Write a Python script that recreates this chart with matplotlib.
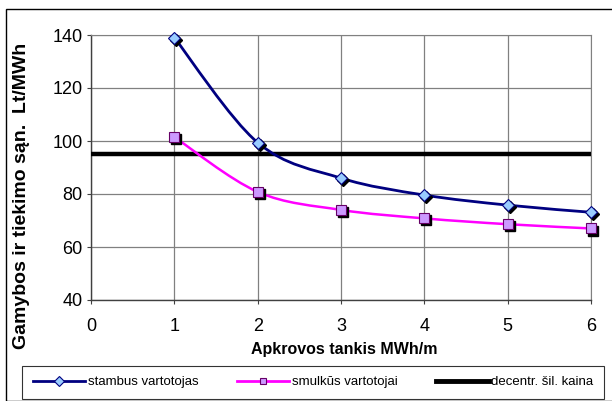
import matplotlib.pyplot as plt
import numpy as np
from matplotlib.path import Path
from matplotlib.patches import PathPatch, Rectangle
from matplotlib.lines import Line2D
from matplotlib.transforms import ScaledTranslation

plt.rcParams['font.family'] = ['Liberation Sans', 'DejaVu Sans']

# Data
density = [1, 2, 3, 4, 5, 6]
large_users = [139, 99.4, 86, 79.6, 75.8, 73.1]
small_users = [101.5, 80.8, 74, 70.8, 68.6, 67]
decentr_price = 95

label_large = 'stambus vartotojas'
label_small = 'smulkūs vartotojai'
label_decentr = 'decentr. šil. kaina'


def smooth_path(xs, ys):
    # Catmull-Rom -> cubic Bezier, like Excel's smoothed line
    pts = np.column_stack([np.asarray(xs, float), np.asarray(ys, float)])
    n = len(pts)
    verts = [pts[0]]
    codes = [Path.MOVETO]
    for i in range(n - 1):
        p0 = pts[max(i - 1, 0)]
        p1 = pts[i]
        p2 = pts[i + 1]
        p3 = pts[min(i + 2, n - 1)]
        verts += [p1 + (p2 - p0) / 6, p2 - (p3 - p1) / 6, p2]
        codes += [Path.CURVE4] * 3
    return Path(verts, codes)


# Layout
fig = plt.figure(figsize=(6.12, 4.01), dpi=100)
ax = fig.add_axes([91 / 612, 101 / 401, 500 / 612, 265 / 401])

# Plot
navy = '#000080'
pink = '#FF00FF'
shadow = ScaledTranslation(1.5 / 72, -1.5 / 72, fig.dpi_scale_trans)

ax.axhline(decentr_price, color='black', lw=3.2, zorder=3)

ax.add_patch(PathPatch(smooth_path(density, large_users), fc='none', ec=navy, lw=2, zorder=4))
ax.add_patch(PathPatch(smooth_path(density, small_users), fc='none', ec=pink, lw=1.8, zorder=4))

ax.plot(density, large_users, ls='none', marker='D', ms=6.5, color='black',
        transform=ax.transData + shadow, zorder=5, clip_on=False)
ax.plot(density, large_users, ls='none', marker='D', ms=6.5, mfc='#99CCFF', mec=navy,
        mew=0.8, zorder=6, clip_on=False)
ax.plot(density, small_users, ls='none', marker='s', ms=7, color='black',
        transform=ax.transData + shadow, zorder=5, clip_on=False)
ax.plot(density, small_users, ls='none', marker='s', ms=7, mfc='#CC99FF', mec='#660066',
        mew=0.8, zorder=6, clip_on=False)

# Details
ax.set_xlim(0, 6)
ax.set_ylim(40, 140)
ax.set_xticks(range(0, 7))
ax.set_yticks(range(40, 141, 20))
ax.grid(True, color='#808080', lw=0.9)
ax.set_axisbelow(True)
for s in ['top', 'right']:
    ax.spines[s].set_color('#808080')
for s in ['left', 'bottom']:
    ax.spines[s].set_color('#404040')
    ax.spines[s].set_linewidth(1.0)
ax.tick_params(labelsize=13, length=3, width=0.8, color='#404040')
ax.tick_params(axis='x', pad=10)
ax.tick_params(axis='y', pad=3)
ax.set_xlabel('Apkrovos tankis MWh/m', fontsize=11.5, fontweight='bold')
ax.set_ylabel('Gamybos ir tiekimo sąn.  Lt/MWh', fontsize=14, fontweight='bold')
ax.xaxis.set_label_coords((344 - 91) / 500, (300 - 342) / 265)
ax.yaxis.set_label_coords((30 - 91) / 500, (300 - 196) / 265)

# Legend
handles = [
    Line2D([], [], color=navy, lw=2, marker='D', ms=5, mfc='#99CCFF', mec=navy, mew=0.8),
    Line2D([], [], color=pink, lw=2, marker='s', ms=5, mfc='#CC99FF', mec='#660066', mew=0.8),
    Line2D([], [], color='black', lw=3.5),
]
leg = fig.legend(handles, [label_large, label_small, label_decentr], ncol=3,
                 loc='lower left', bbox_to_anchor=(22 / 612, 2 / 401, 582 / 612, 36 / 401),
                 mode='expand', fontsize=9.5, frameon=True, fancybox=False,
                 handlelength=4.0, handletextpad=0.2, borderaxespad=0,
                 borderpad=0.8)
leg.get_frame().set_edgecolor('black')
leg.get_frame().set_linewidth(0.8)

# Outer border
fig.patches.append(Rectangle((6 / 612, 0), 1, 392 / 401, transform=fig.transFigure,
                             fill=False, ec='black', lw=1.0))

# Save
fig.savefig('out.png', dpi=100)
